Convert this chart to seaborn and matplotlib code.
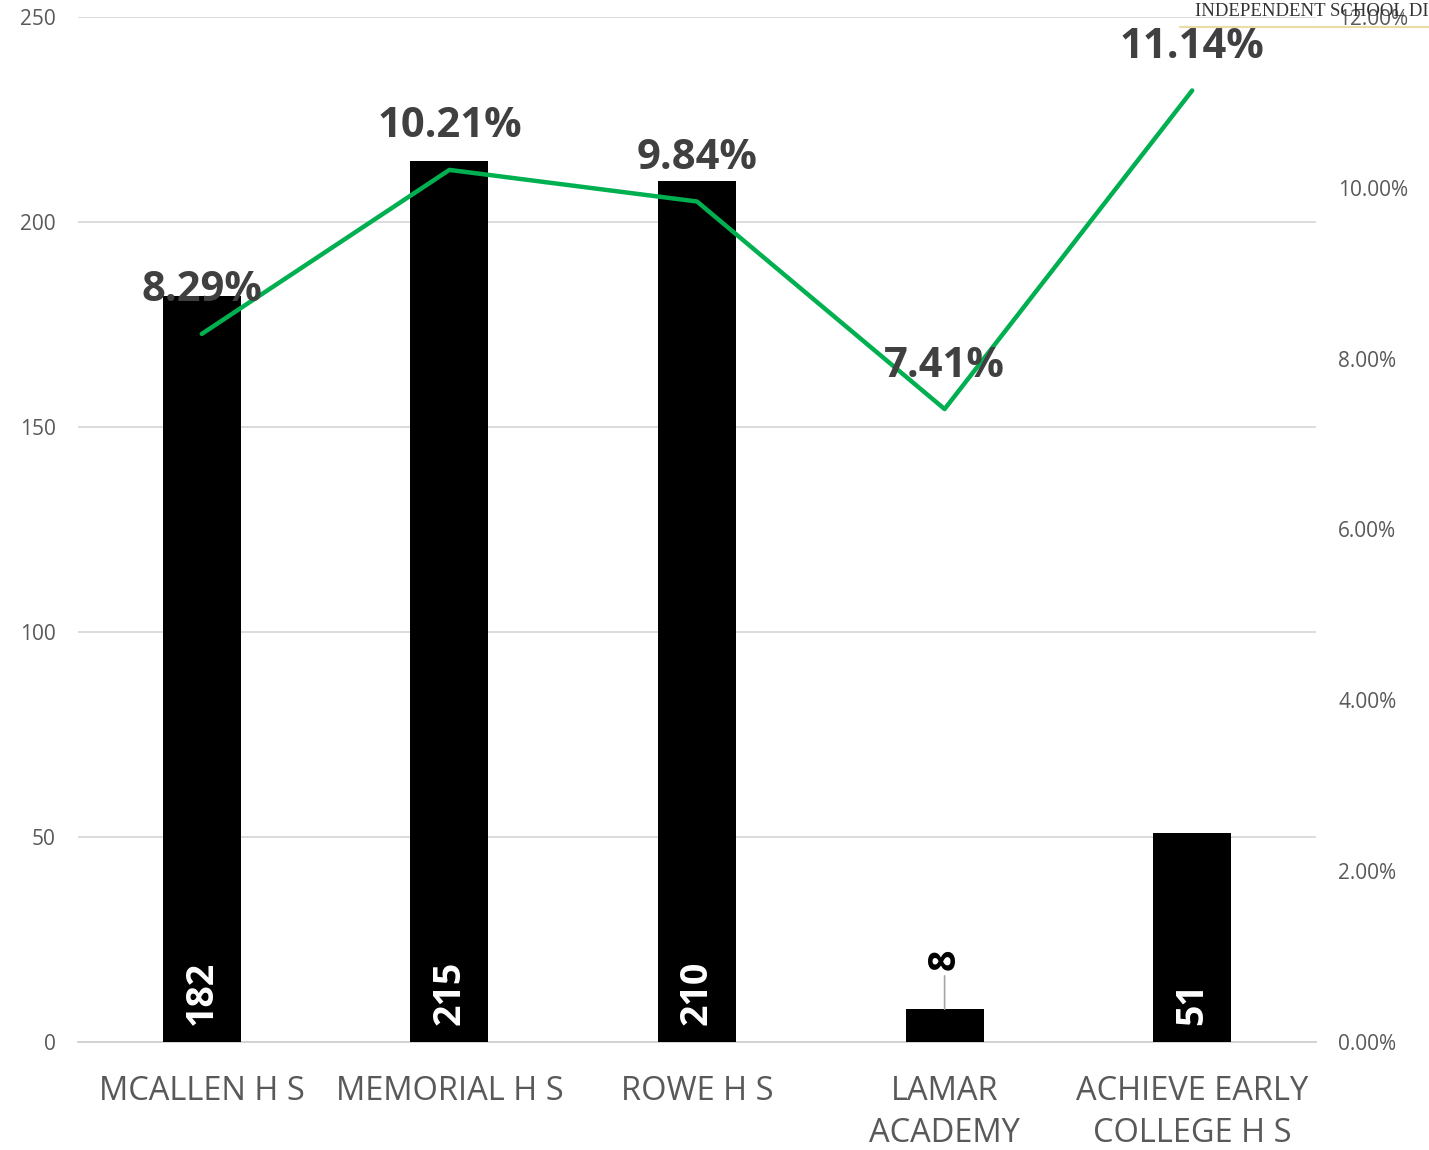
import matplotlib
matplotlib.use("Agg")
import matplotlib.pyplot as plt
import seaborn as sns
import pandas as pd
from matplotlib.ticker import FuncFormatter, MultipleLocator

# ---- data ----
schools = ["MCALLEN H S", "MEMORIAL H S", "ROWE H S", "LAMAR\nACADEMY", "ACHIEVE EARLY\nCOLLEGE H S"]
counts = [182, 215, 210, 8, 51]
rates = [8.29, 10.21, 9.84, 7.41, 11.14]
header_text = "INDEPENDENT SCHOOL DI"

sns.set_theme(style="white")
plt.rcParams["font.family"] = ["Open Sans", "DejaVu Sans"]

df = pd.DataFrame({"school": schools, "count": counts, "rate": rates})

fig = plt.figure(figsize=(14.29, 11.5), dpi=100)
ax = fig.add_axes([78 / 1429, 1 - 1042 / 1150, (1316 - 78) / 1429, (1042 - 17) / 1150])

sns.barplot(data=df, x="school", y="count", color="black", width=0.315, ax=ax,
            saturation=1, zorder=3)
for p in ax.patches:
    p.set_edgecolor("none")

ax.set_ylim(0, 250)
ax.yaxis.set_major_locator(MultipleLocator(50))
ax.grid(axis="y", color="#D9D9D9", linewidth=1.3, zorder=0)
ax.grid(axis="x", visible=False)
for s in ["top", "right", "left"]:
    ax.spines[s].set_visible(False)
ax.spines["bottom"].set_color("#D0D0D0")
ax.spines["bottom"].set_linewidth(1.3)
ax.set_xlabel("")
ax.set_ylabel("")
ax.tick_params(axis="y", length=0, labelsize=15, labelcolor="#595959", pad=16)
ax.tick_params(axis="x", length=0, labelsize=23.5, labelcolor="#595959", pad=24)
for lbl in ax.get_xticklabels():
    lbl.set_linespacing(1.35)

ax2 = ax.twinx()
sns.lineplot(data=df, x="school", y="rate", color="#00B050", linewidth=3.2, ax=ax2,
             zorder=4, sort=False)
ax2.set_ylim(0, 12)
ax2.yaxis.set_major_locator(MultipleLocator(2))
ax2.yaxis.set_major_formatter(FuncFormatter(lambda v, _: f"{v:.2f}%"))
for s in ["top", "right", "left", "bottom"]:
    ax2.spines[s].set_visible(False)
ax2.grid(False)
ax2.set_ylabel("")
ax2.set_xlabel("")
ax2.tick_params(axis="y", length=0, labelsize=15, labelcolor="#595959", pad=16)
ax.set_xlim(-0.5, len(schools) - 0.5)

# bar value labels
for i, c in enumerate(counts):
    if c >= 30:
        ax.annotate(str(c), xy=(i, 0), xytext=(0, 12), textcoords="offset points",
                    rotation=90, ha="center", va="bottom", color="white",
                    fontsize=27, fontweight="bold", zorder=5)
    else:
        ax.annotate("", xy=(i, c), xytext=(0, 24), textcoords="offset points",
                    arrowprops=dict(arrowstyle="-", color="#A6A6A6", lw=1.2,
                                    shrinkA=0, shrinkB=0), zorder=5)
        ax.annotate(str(c), xy=(i, c), xytext=(0, 28), textcoords="offset points",
                    rotation=90, ha="center", va="bottom", color="black",
                    fontsize=27, fontweight="bold", zorder=5)

# rate labels
for i, r in enumerate(rates):
    ax2.annotate(f"{r:.2f}%", xy=(i, r), xytext=(0, 31), textcoords="offset points",
                 ha="center", va="center", color="#404040", fontsize=30,
                 fontweight="bold", zorder=6)

# header fragment at top right
fig.text(1195 / 1429, 1 - 11 / 1150, header_text, family=["Liberation Serif", "DejaVu Serif"],
         fontsize=13.5, color="#333333", ha="left", va="center")
fig.add_artist(plt.Line2D([1180 / 1429, 1.0], [1 - 27 / 1150, 1 - 27 / 1150],
                          color="#E9DCA6", linewidth=1.5))

fig.savefig("out.png", dpi=100)
